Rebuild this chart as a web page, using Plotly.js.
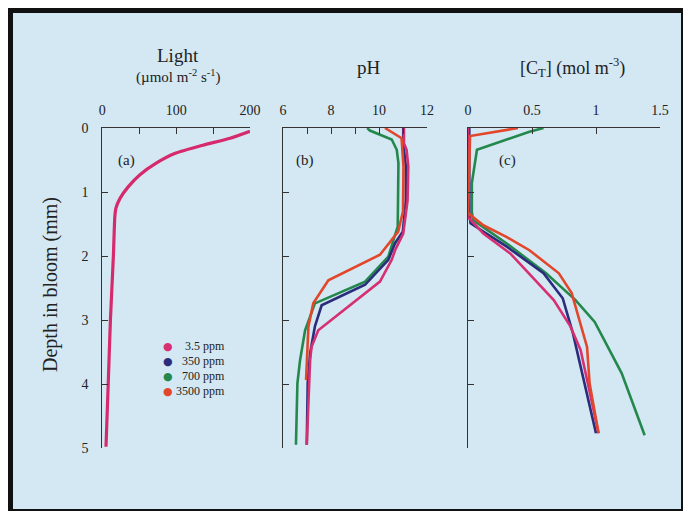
<!DOCTYPE html>
<html>
<head>
<meta charset="utf-8">
<script src="https://cdn.plot.ly/plotly-3.0.1.min.js"></script>
<style>html,body{margin:0;padding:0;background:#fff;}#chart{width:683px;height:511px;}</style>
</head>
<body>
<div id="chart"></div>
<script>
// ---------- data ----------
const seriesNames = ['3.5 ppm', '350 ppm', '700 ppm', '3500 ppm'];
const seriesColors = ['#d62f72', '#2b2c7c', '#24884c', '#e2472c'];
const lightColor = '#d62a6c';

// (a) light profile
const lightDepth = [0.05, 0.16, 0.27, 0.40, 0.55, 0.73, 0.92, 1.10, 1.25, 1.38, 2.0, 3.0, 4.0, 4.98];
const lightValue = [200, 173, 136, 98, 73, 51, 35, 24, 18.5, 17, 15, 11, 8, 5];

// (b) pH profiles
const phDepth35   = [0, 0.24, 0.34, 0.60, 1.13, 1.65, 1.91, 2.06, 2.40, 3.16, 3.42, 3.63, 4.95];
const phValue35   = [11.04, 11.04, 11.15, 11.22, 11.19, 11.01, 10.67, 10.53, 10.04, 7.47, 7.19, 7.13, 6.99];
const phDepth350  = [0, 0.24, 0.60, 1.13, 1.62, 1.80, 2.06, 2.45, 2.77, 3.10, 3.52, 3.99, 4.95];
const phValue350  = [11.01, 11.01, 11.12, 11.12, 10.99, 10.67, 10.39, 9.42, 7.61, 7.33, 7.13, 7.03, 6.99];
const phDepth700  = [0, 0.04, 0.18, 0.34, 0.55, 1.54, 1.67, 2.01, 2.40, 2.74, 3.16, 3.63, 3.99, 4.95];
const phValue700  = [9.51, 9.62, 10.53, 10.74, 10.81, 10.78, 10.67, 10.39, 9.42, 7.33, 6.92, 6.71, 6.60, 6.54];
const phDepth3500 = [0, 0.16, 0.60, 1.30, 1.62, 1.98, 2.38, 2.74, 3.10, 3.94];
const phValue3500 = [10.25, 10.94, 11.02, 11.0, 10.80, 10.04, 7.89, 7.26, 7.06, 6.96];

// (c) total inorganic carbon profiles
const ctDepth35   = [0, 1.39, 1.65, 1.96, 2.69, 3.10, 3.47, 4.77];
const ctValue35   = [0, 0, 0.12, 0.33, 0.67, 0.80, 0.88, 1.02];
const ctDepth350  = [0, 1.33, 1.49, 1.85, 2.27, 2.66, 3.21, 4.77];
const ctValue350  = [0.01, 0.01, 0.02, 0.30, 0.59, 0.74, 0.82, 1.00];
const ctDepth700  = [0, 0.06, 0.34, 0.86, 1.31, 1.44, 1.80, 2.27, 2.69, 3.03, 3.83, 4.80];
const ctValue700  = [0.59, 0.48, 0.07, 0.03, 0.03, 0.04, 0.30, 0.61, 0.84, 0.99, 1.20, 1.38];
const ctDepth3500 = [0, 0.125, 1.33, 1.52, 1.70, 1.91, 2.27, 2.58, 3.42, 3.99, 4.77];
const ctValue3500 = [0.39, 0.016, 0, 0.12, 0.30, 0.48, 0.71, 0.81, 0.93, 0.95, 1.02];

// axis ticks
const depthTicks = [0, 1, 2, 3, 4, 5];
const lightTicks = [0, 100, 200];
const phTicks = [6, 8, 10, 12];
const ctTicks = [0, 0.5, 1, 1.5];

// ---------- layout helpers ----------
const W = 683, H = 511;
const px = x => x / W;
const py = y => 1 - y / H;
const FONT = 'Liberation Serif, DejaVu Serif, serif';
const BG = '#d3e8f3';

const phSeries = [
  [phDepth35, phValue35], [phDepth350, phValue350], [phDepth700, phValue700], [phDepth3500, phValue3500]
];
const ctSeries = [
  [ctDepth35, ctValue35], [ctDepth350, ctValue350], [ctDepth700, ctValue700], [ctDepth3500, ctValue3500]
];
const drawOrder = [2, 1, 0, 3];

const traces = [];
traces.push({x: lightValue, y: lightDepth, xaxis: 'x', yaxis: 'y', mode: 'lines',
  line: {color: lightColor, width: 3.2, shape: 'spline', smoothing: 0.6}, showlegend: false, hoverinfo: 'skip'});
drawOrder.forEach(i => {
  traces.push({x: phSeries[i][1], y: phSeries[i][0], xaxis: 'x2', yaxis: 'y2', mode: 'lines',
    name: seriesNames[i], line: {color: seriesColors[i], width: 2.6}, showlegend: false});
});
drawOrder.forEach(i => {
  traces.push({x: ctSeries[i][1], y: ctSeries[i][0], xaxis: 'x3', yaxis: 'y3', mode: 'lines',
    name: seriesNames[i], line: {color: seriesColors[i], width: 2.6}, showlegend: false});
});

const yDomain = [py(448), py(128)];
const tickFont = {family: FONT, size: 14, color: '#222'};

function xAxis(domain, range, ticks, minorD, anchor) {
  return {
    domain: domain, range: range, side: 'top', anchor: anchor,
    showline: true, linecolor: '#333', linewidth: 1, mirror: false,
    ticks: 'inside', ticklen: 6, tickcolor: '#333', tickwidth: 1,
    tickvals: ticks, ticktext: ticks.map(String),
    showgrid: false, zeroline: false, tickfont: tickFont, ticklabelstandoff: 6,
    minor: minorD ? {dtick: minorD, tick0: range[0], ticks: 'inside', ticklen: 6, tickcolor: '#333', showgrid: false} : undefined,
    fixedrange: true
  };
}
function yAxis(anchor, labels) {
  return {
    domain: yDomain, range: [5, 0], anchor: anchor,
    showline: true, linecolor: '#333', linewidth: 1,
    ticks: 'inside', ticklen: 6, tickcolor: '#333',
    tickvals: depthTicks, ticktext: depthTicks.map(String),
    showticklabels: labels, showgrid: false, zeroline: false,
    tickfont: tickFont, ticklabelstandoff: 10, fixedrange: true
  };
}

const annotations = [];
function addText(text, x, y, size, extra) {
  annotations.push(Object.assign({text: text, x: px(x), y: py(y), xref: 'paper', yref: 'paper',
    showarrow: false, font: {family: FONT, size: size, color: '#222'}, xanchor: 'center', yanchor: 'middle'}, extra || {}));
}
addText('Light', 178, 55, 19);
addText('(\u00b5mol m<sup>-2</sup> s<sup>-1</sup>)', 178, 77, 15);
addText('pH', 369, 67, 19);
addText('[C<sub>T</sub>] (mol m<sup>-3</sup>)', 572, 67, 18);
addText('Depth in bloom (mm)', 50, 285, 20, {textangle: -90});
addText('(a)', 126, 160, 15);
addText('(b)', 305, 161, 15);
addText('(c)', 507, 161, 15);

const legendY = [346, 361, 376, 391];
seriesNames.forEach((n, i) => {
  addText('\u25cf', 168, legendY[i], 11, {font: {family: 'DejaVu Sans', size: 11, color: seriesColors[i]}});
  addText(n, 227, legendY[i], 12, {xanchor: 'right'});
});

const shapes = [
  {type: 'rect', xref: 'paper', yref: 'paper', x0: px(8), x1: px(690), y0: py(520), y1: py(8),
   fillcolor: '#111', line: {width: 0}, layer: 'below'},
  {type: 'rect', xref: 'paper', yref: 'paper', x0: px(13), x1: px(681), y0: py(509), y1: py(13),
   fillcolor: BG, line: {width: 0}, layer: 'below'}
];

const layout = {
  width: W, height: H, margin: {l: 0, r: 0, t: 0, b: 0},
  paper_bgcolor: '#ffffff', plot_bgcolor: 'rgba(0,0,0,0)',
  font: {family: FONT, color: '#222'},
  showlegend: false,
  xaxis: xAxis([px(102.3), px(250)], [0, 200], lightTicks, 50, 'y'),
  xaxis2: xAxis([px(283), px(427)], [6, 12], phTicks, 1, 'y2'),
  xaxis3: xAxis([px(468), px(660)], [0, 1.5], ctTicks, null, 'y3'),
  yaxis: yAxis('x', true),
  yaxis2: yAxis('x2', false),
  yaxis3: yAxis('x3', false),
  annotations: annotations,
  shapes: shapes
};

Plotly.newPlot('chart', traces, layout, {displayModeBar: false, staticPlot: true});
</script>
</body>
</html>
